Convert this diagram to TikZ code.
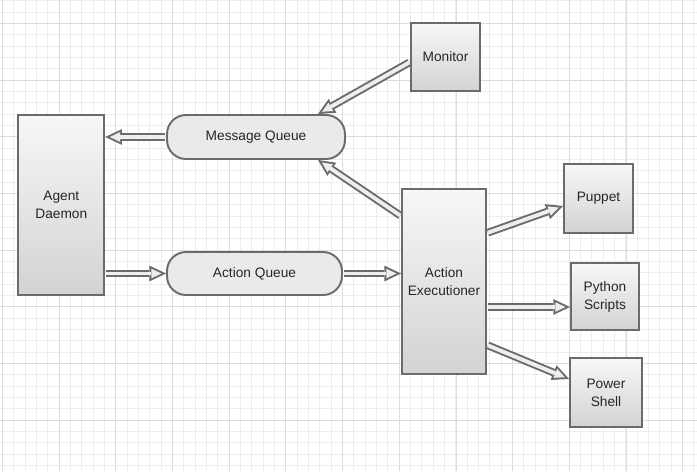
\documentclass[tikz,border=0pt]{standalone}
\usepackage{fontspec}
\setmainfont{Liberation Sans}
\usepackage{xcolor}
\usetikzlibrary{arrows.meta}
\definecolor{gridminor}{HTML}{EDEDED}
\definecolor{gridmajor}{HTML}{DCDCDC}
\definecolor{edgegray}{HTML}{6B6B6B}
\definecolor{boxtop}{HTML}{F7F7F7}
\definecolor{boxbottom}{HTML}{D3D3D3}
\definecolor{queuefill}{HTML}{EAEAEA}
\definecolor{pipefill}{HTML}{EEEEEE}

\begin{document}
\begin{tikzpicture}[x=0.02cm, y=-0.02cm,
    every node/.style={font=\fontsize{7.8}{10.2}\selectfont, text=black!85, align=center, inner sep=0pt},
    box/.style={draw=edgegray, line width=1.1pt, top color=boxtop, bottom color=boxbottom},
    queue/.style={draw=edgegray, line width=1.1pt, fill=queuefill, rounded corners=0.38cm},
    pipe/.style={draw=pipefill, line width=2.2pt, shorten <=0.5pt, shorten >=2.6pt,
        -{Triangle[length=5.8pt, width=5.5pt, line width=0pt]},
        preaction={draw=edgegray, line width=4.4pt, shorten >=0pt,
            -{Triangle[length=9.5pt, width=9pt, line width=0pt]}}}]
    \useasboundingbox (0,0) rectangle (697,471);

    % background grid
    \begin{scope}
        \clip (0,0) rectangle (697,471);
        \fill[white] (0,0) rectangle (697,471);
        \foreach \i in {0,...,61}
            \draw[gridminor, line width=0.5pt] ({2.6+11.333*\i},0) -- ++(0,471);
        \foreach \j in {0,...,41}
            \draw[gridminor, line width=0.5pt] (0,{0.7+11.333*\j}) -- ++(697,0);
        \foreach \i in {0,...,12}
            \draw[gridmajor, line width=0.5pt] ({2.6+56.667*\i},0) -- ++(0,471);
        \foreach \j in {0,...,8}
            \draw[gridmajor, line width=0.5pt] (0,{23.3+56.667*\j}) -- ++(697,0);
    \end{scope}

    \node[box, minimum width=1.72cm, minimum height=3.6cm] (daemon) at (61.3,204.7) {Agent\\Daemon};
    \node[queue, minimum width=3.56cm, minimum height=0.88cm] (mq) at (256,137) {Message Queue};
    \node[queue, minimum width=3.5cm, minimum height=0.86cm] (aq) at (254.5,273.5) {Action Queue};
    \node[box, minimum width=1.38cm, minimum height=1.36cm] (monitor) at (445.5,57) {Monitor};
    \node[box, minimum width=1.68cm, minimum height=3.7cm] (exec) at (444,281.5) {Action\\Executioner};
    \node[box, minimum width=1.38cm, minimum height=1.38cm] (puppet) at (598.5,198.5) {Puppet};
    \node[box, minimum width=1.36cm, minimum height=1.34cm] (python) at (605,296.5) {Python\\Scripts};
    \node[box, minimum width=1.44cm, minimum height=1.38cm] (power) at (606,392.5) {Power\\Shell};

    \draw[pipe] (mq.west) -- (mq.west -| daemon.east);
    \draw[pipe] (aq.west -| daemon.east) -- (aq.west);
    \draw[pipe] (aq.east) -- (aq.east -| exec.west);
    \draw[pipe] ([yshift=1.31cm]exec.west) -- ([xshift=1.24cm]mq.south);
    \draw[pipe] ([yshift=-0.1cm]monitor.west) -- ([xshift=1.24cm]mq.north);
    \draw[pipe] ([yshift=0.97cm]exec.east) -- ([yshift=-0.15cm]puppet.west);
    \draw[pipe] ([yshift=-0.51cm]exec.east) -- ([yshift=-0.51cm]exec.east -| python.west);
    \draw[pipe] ([yshift=-1.27cm]exec.east) -- ([yshift=0.27cm]power.west);
\end{tikzpicture}
\end{document}
